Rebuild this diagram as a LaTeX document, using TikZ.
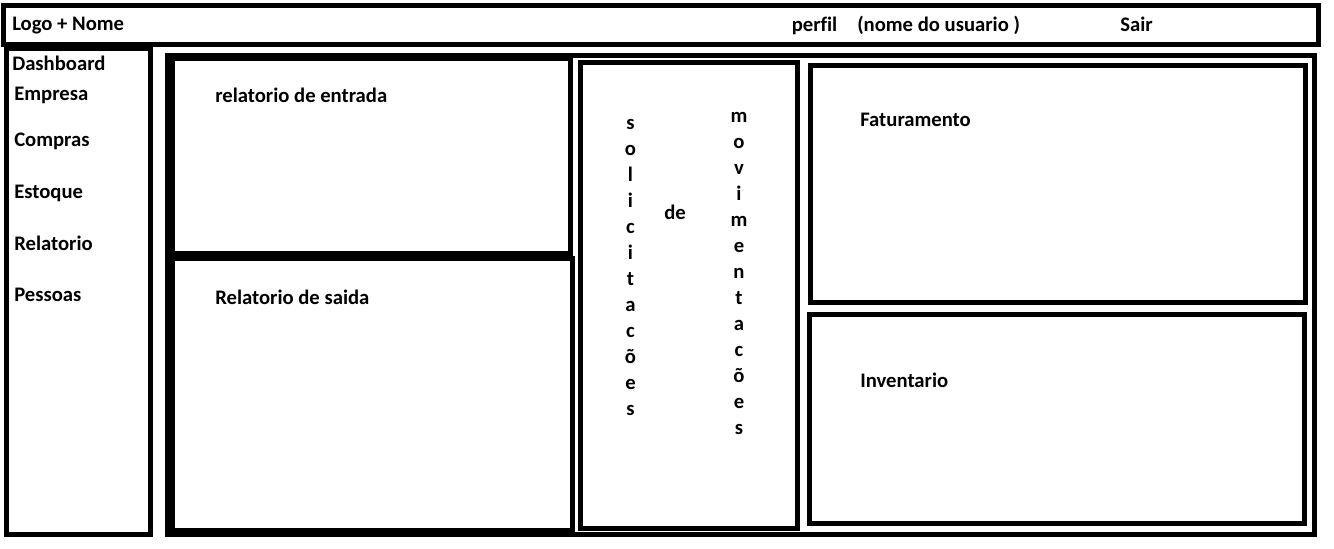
\documentclass[tikz,border=0pt]{standalone}
\usepackage{fontspec}
\setmainfont[Ligatures=NoCommon]{Carlito}
\tikzset{
  box/.style={line width=3.75pt},
  lbl/.style={anchor=base west, inner sep=0pt, font=\fontsize{15.5}{18}\selectfont\bfseries},
  chr/.style={anchor=base, inner sep=0pt, font=\fontsize{15.5}{18}\selectfont\bfseries}
}
\begin{document}
\begin{tikzpicture}[x=0.75pt, y=-0.75pt]
	%%%%% START %%%%%
	\useasboundingbox (0,0) rectangle (1334,549);
	
	% barra de cima
	\draw[box] (3.5, 5.5) rectangle (1318, 44.5);
	\node[lbl] (logo) at (12, 31) {Logo + Nome};
	\node[lbl] (perfil) at (791.5, 31.5) {perfil};
	\node[lbl] (usuario) at (857, 31.5) {(nome do usuario )};
	\node[lbl] (sair) at (1120, 31.5) {Sair};
	
	% menu lateral
	\draw[box] (6, 48.5) rectangle (150.5, 534.5);
	\node[lbl] (dash) at (12, 70.5) {Dashboard};
	\node[lbl] (empresa) at (14, 100.5) {Empresa};
	\node[lbl] (compras) at (14, 146.5) {Compras};
	\node[lbl] (estoque) at (14, 198) {Estoque};
	\node[lbl] (relat) at (14, 250) {Relatorio};
	\node[lbl] (pessoas) at (14, 301.5) {Pessoas};
	
	% quadro principal
	\draw[box] (167.5, 55.5) rectangle (1314.5, 534);
	
	\draw[box] (172.5, 58.5) rectangle (570.5, 253.5);
	\node[lbl] (entrada) at (215, 102.5) {relatorio de entrada};
	
	\draw[box] (172.5, 258.5) rectangle (572.5, 530);
	\node[lbl] (saida) at (215, 304) {Relatorio de saida};
	
	\draw[box] (580.5, 62.5) rectangle (797.5, 528.5);
	\foreach \c [count=\i from 0] in {s,o,l,i,c,i,t,a,c,õ,e,s}
		\node[chr] (sol\i) at (630.5, 129.5+26*\i) {\c};
	\node[lbl] (de) at (664, 219.5) {de};
	\foreach \c [count=\i from 0] in {m,o,v,i,m,e,n,t,a,c,õ,e,s}
		\node[chr] (mov\i) at (739, 122.5+26*\i) {\c};
	
	\draw[box] (810.5, 65.5) rectangle (1305.5, 302.5);
	\node[lbl] (fatur) at (860, 127) {Faturamento};
	
	\draw[box] (809.5, 314.5) rectangle (1304.5, 523.5);
	\node[lbl] (invent) at (860, 387) {Inventario};
	
	%%%%% END %%%%%
\end{tikzpicture}
\end{document}
